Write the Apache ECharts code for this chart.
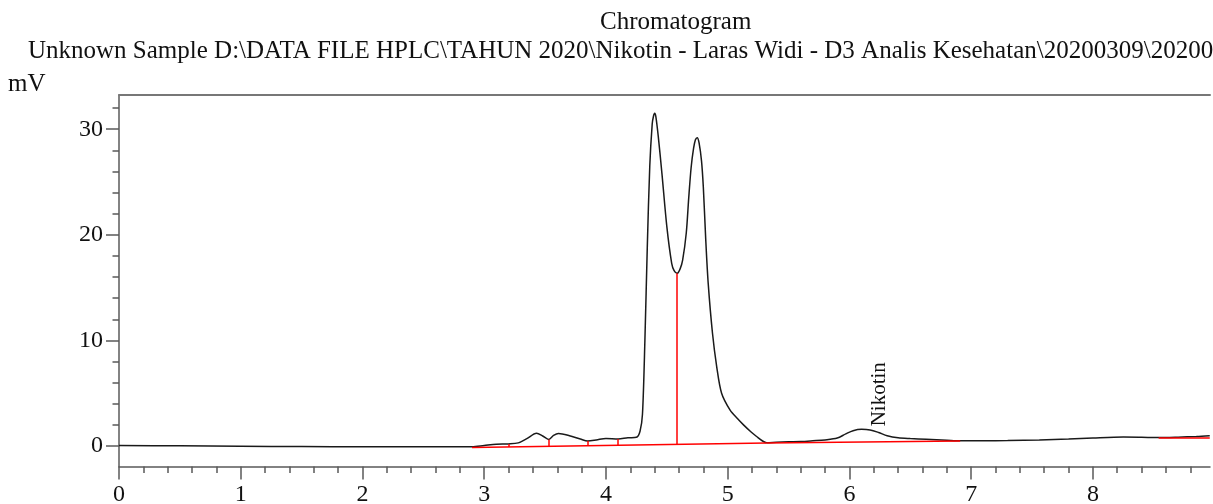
<!DOCTYPE html>
<html>
<head>
<meta charset="utf-8">
<title>Chromatogram</title>
<script src="https://cdn.jsdelivr.net/npm/echarts@6/dist/echarts.min.js"></script>
<style>
  html, body { margin: 0; padding: 0; background: #fff; }
  #chart { width: 1213px; height: 504px; }
</style>
</head>
<body>
<div id="chart"></div>
<script>
// retention time (min) / signal (mV)
const times = [
  0.00, 0.50, 1.00, 1.50, 2.00, 2.50, 2.90, 3.00, 3.10, 3.20,
  3.28, 3.35, 3.43, 3.48, 3.53, 3.57, 3.61, 3.70, 3.79, 3.85,
  3.92, 4.00, 4.10, 4.18, 4.25, 4.28, 4.30, 4.32, 4.34, 4.36,
  4.38, 4.39, 4.40, 4.41, 4.43, 4.46, 4.50, 4.54, 4.56, 4.585,
  4.61, 4.63, 4.66, 4.68, 4.70, 4.72, 4.735, 4.75, 4.765, 4.785,
  4.80, 4.82, 4.84, 4.875, 4.91, 4.95, 5.02, 5.08, 5.13, 5.19,
  5.24, 5.29, 5.32, 5.40, 5.50, 5.60, 5.70, 5.80, 5.90, 5.97,
  6.03, 6.10, 6.17, 6.24, 6.31, 6.40, 6.50, 6.63, 6.80, 6.91,
  7.10, 7.30, 7.56, 7.80, 8.00, 8.25, 8.40, 8.54, 8.70, 8.85,
  8.96
]
const signal = [
  0.05, 0.02, -0.02, -0.05, -0.07, -0.08, -0.07, 0.05, 0.17, 0.20,
  0.30, 0.70, 1.20, 0.95, 0.62, 1.00, 1.18, 0.98, 0.66, 0.47,
  0.57, 0.72, 0.66, 0.78, 0.82, 1.40, 3.00, 10.0, 19.0, 26.5,
  30.5, 31.2, 31.5, 31.2, 29.3, 25.8, 20.8, 17.3, 16.6, 16.35,
  16.8, 17.6, 20.2, 23.5, 26.4, 28.2, 29.0, 29.2, 28.7, 27.0,
  24.5, 19.5, 15.4, 10.7, 7.5, 5.0, 3.4, 2.6, 2.0, 1.35,
  0.88, 0.45, 0.31, 0.36, 0.40, 0.43, 0.50, 0.58, 0.75, 1.15,
  1.45, 1.58, 1.52, 1.28, 0.98, 0.78, 0.70, 0.63, 0.55, 0.50,
  0.50, 0.52, 0.57, 0.66, 0.76, 0.85, 0.83, 0.80, 0.84, 0.90,
  0.97
]

// integration baselines [t1, v1, t2, v2]
const baselines = [
  [2.90, -0.15, 5.32, 0.28],
  [5.32, 0.28, 6.91, 0.48],
  [8.54, 0.78, 8.96, 0.74]
]
// peak drop lines [t, top, bottom]
const drops = [
  [3.205, 0.20, -0.09],
  [3.53, 0.62, -0.05],
  [3.854, 0.47, 0.01],
  [4.10, 0.66, 0.06],
  [4.585, 16.35, 0.13]
]
const peakName = 'Nikotin'
const peakAt = [6.10, 1.58]

const xMajor = [0, 1, 2, 3, 4, 5, 6, 7, 8]
const yMajor = [0, 10, 20, 30]
const xMinor = []
for (let i = 1; i <= 44; i++) { if (i % 5) xMinor.push(+(i * 0.2).toFixed(1)) }
const yMinor = []
for (let v = 2; v <= 32; v += 2) { if (v % 10) yMinor.push(v) }

const font = '"Liberation Serif", "Times New Roman", serif'
const axisColor = '#5a5a5a'

const redLines = []
baselines.forEach(b => redLines.push([{ coord: [b[0], b[1]] }, { coord: [b[2], b[3]] }]))
drops.forEach(d => redLines.push([{ coord: [d[0], d[1]] }, { coord: [d[0], d[2]] }]))

const chart = echarts.init(document.getElementById('chart'))
const options = {
  animation: false,
  backgroundColor: '#fff',
  textStyle: { fontFamily: font },
  graphic: [
    { type: 'text', x: 600, y: 22, style: { text: 'Chromatogram', font: '25px ' + font, fill: '#111', verticalAlign: 'middle' } },
    { type: 'text', x: 28, y: 51, style: { text: 'Unknown Sample D:\\DATA FILE HPLC\\TAHUN 2020\\Nikotin - Laras Widi - D3 Analis Kesehatan\\20200309\\20200309', font: '25px ' + font, fill: '#111', verticalAlign: 'middle' } },
    { type: 'text', x: 8, y: 84, style: { text: 'mV', font: '25px ' + font, fill: '#111', verticalAlign: 'middle' } }
  ],
  grid: { left: 119, right: 3, top: 95, bottom: 37.5, containLabel: false, outerBoundsMode: 'none' },
  xAxis: [
    {
      type: 'value', min: 0, max: 8.962, position: 'bottom',
      axisLine: { show: true, onZero: false, lineStyle: { color: axisColor, width: 1.5 } },
      axisTick: { show: true, length: 13, customValues: xMajor, lineStyle: { color: axisColor, width: 1.5 } },
      axisLabel: { customValues: xMajor, margin: 16, color: '#111', fontSize: 24, fontFamily: font },
      splitLine: { show: false }
    },
    {
      type: 'value', min: 0, max: 8.962, position: 'bottom',
      axisLine: { show: false, onZero: false },
      axisTick: { show: true, length: 6.5, customValues: xMinor, lineStyle: { color: axisColor, width: 1.5 } },
      axisLabel: { show: false },
      splitLine: { show: false }
    },
    {
      type: 'value', min: 0, max: 8.962, position: 'top',
      axisLine: { show: true, onZero: false, lineStyle: { color: '#777', width: 2 } },
      axisTick: { show: false },
      axisLabel: { show: false },
      splitLine: { show: false }
    }
  ],
  yAxis: [
    {
      type: 'value', min: -1.94, max: 33.24, position: 'left',
      axisLine: { show: true, onZero: false, lineStyle: { color: axisColor, width: 1.5 } },
      axisTick: { show: true, length: 13, customValues: yMajor, lineStyle: { color: axisColor, width: 1.5 } },
      axisLabel: { customValues: yMajor, margin: 16, color: '#111', fontSize: 24, fontFamily: font },
      splitLine: { show: false }
    },
    {
      type: 'value', min: -1.94, max: 33.24, position: 'left',
      axisLine: { show: false, onZero: false },
      axisTick: { show: true, length: 6.5, customValues: yMinor, lineStyle: { color: axisColor, width: 1.5 } },
      axisLabel: { show: false },
      splitLine: { show: false }
    }
  ],
  series: [
    {
      name: 'signal',
      type: 'line',
      xAxisIndex: 0,
      yAxisIndex: 0,
      data: times.map((t, i) => [t, signal[i]]),
      showSymbol: false,
      smooth: 0.3,
      lineStyle: { color: '#1a1a1a', width: 1.5 },
      z: 3,
      markPoint: {
        symbol: 'circle',
        symbolSize: 0,
        silent: true,
        data: [{ coord: peakAt }],
        label: {
          show: true,
          formatter: peakName,
          position: 'top',
          distance: 5,
          rotate: 90,
          align: 'left',
          verticalAlign: 'middle',
          offset: [-2, 18],
          color: '#111',
          fontSize: 21,
          fontFamily: font
        }
      }
    },
    {
      name: 'baseline',
      type: 'line',
      xAxisIndex: 0,
      yAxisIndex: 0,
      data: [],
      z: 2,
      markLine: {
        silent: true,
        symbol: ['none', 'none'],
        label: { show: false },
        lineStyle: { color: '#ff0000', width: 1.5, type: 'solid' },
        emphasis: { disabled: true },
        data: redLines
      }
    }
  ]
}
chart.setOption(options)
</script>
</body>
</html>
